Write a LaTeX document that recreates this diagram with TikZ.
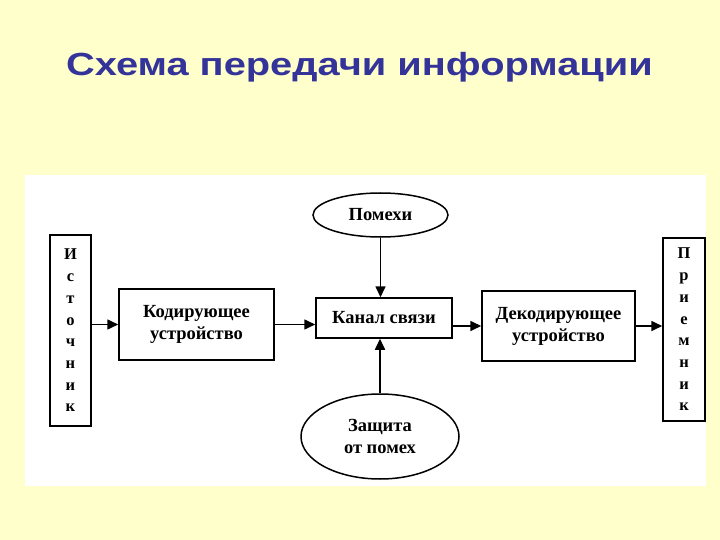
\documentclass[tikz,border=0pt]{standalone}
\usepackage{fontspec}
\setmainfont{Liberation Serif}
\newfontfamily\titlefont{Liberation Sans}
\usetikzlibrary{shapes.geometric}
\usetikzlibrary{arrows.meta, positioning}
\definecolor{slideBack}{RGB}{255, 255, 204}
\definecolor{titleBlue}{RGB}{51, 51, 153}
\tikzset{
    block/.style={draw, line width=1.5pt, fill=white, inner sep=0pt, align=center,
        font=\bfseries\fontsize{18.5}{22}\selectfont},
    column/.style={block, font=\bfseries\fontsize{16.5}{21.7}\selectfont},
    oval/.style={block, ellipse},
    flow/.style={line width=1.6pt, -{Triangle[length=11pt, width=10pt]}}
}
\begin{document}
\begin{tikzpicture}[x=1pt, y=-1pt]
    % slide and white panel
    \fill[slideBack] (0,0) rectangle (720,540);
    \useasboundingbox (0,0) rectangle (720,540);
    \fill[white] (25,175) rectangle (706,486);

    \node[anchor=base, inner sep=0pt, font=\titlefont\bfseries\fontsize{32}{38}\selectfont, text=titleBlue] (title) at (359.5,76) {\scalebox{1.244}[1]{Схема передачи информации}};

    % blocks
    \node[column, minimum width=41pt, minimum height=191pt] (src) at (70.5,330.5) {И\\с\\т\\о\\ч\\н\\и\\к};
    \node[block, minimum width=155pt, minimum height=71pt] (coder) at (196.5,324.5) {Кодирующее\\устройство};
    \node[block, minimum width=136pt, minimum height=40pt] (chan) at (384,318) {Канал связи};
    \node[block, minimum width=153pt, minimum height=70pt] (decoder) at (558.5,326) {Декодирующее\\устройство};
    \node[column, minimum width=42pt, minimum height=183pt] (recv) at (684,329.5) {П\\р\\и\\е\\м\\н\\и\\к};
    \node[oval, minimum width=135pt, minimum height=44pt] (noise) at (380.5,215) {Помехи};
    \node[oval, minimum width=158pt, minimum height=85pt] (guard) at (380,436.5) {Защита\\от помех};

    % connectors
    \draw[flow] (src.east |- coder.west) -- (coder.west);
    \draw[flow] (coder.east) -- (coder.east -| chan.west);
    \draw[flow] (chan.east |- decoder.west) -- (decoder.west);
    \draw[flow] (decoder.east) -- (decoder.east -| recv.west);
    \draw[flow] (noise.south) -- (noise.south |- chan.north);
    \draw[flow] (guard.north) -- (guard.north |- chan.south);
\end{tikzpicture}
\end{document}
